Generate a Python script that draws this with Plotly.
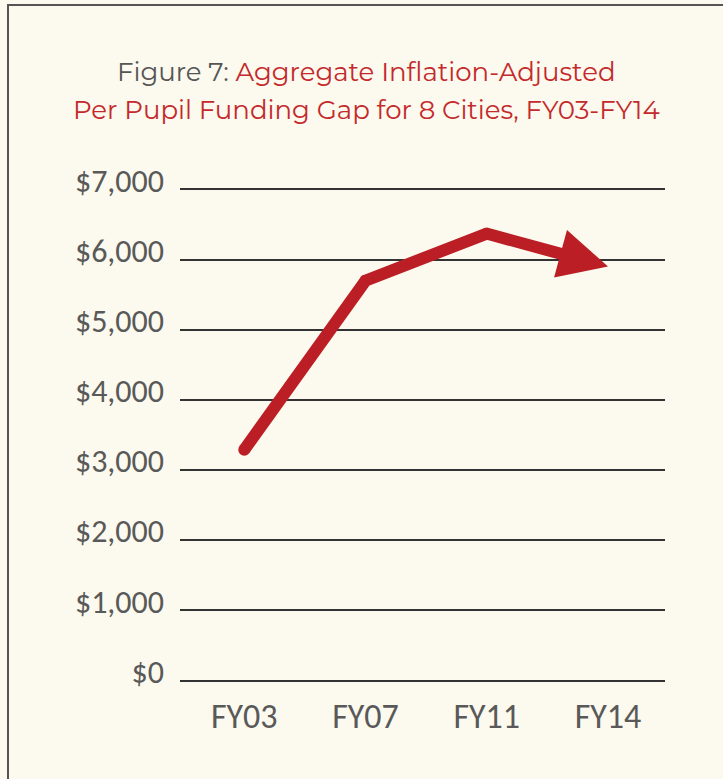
import plotly.graph_objects as go

categories = ["FY03", "FY07", "FY11", "FY14"]
gap_values = [3290, 5700, 6370, 5900]
y_tick_values = [0, 1000, 2000, 3000, 4000, 5000, 6000, 7000]
y_tick_labels = ["$0", "$1,000", "$2,000", "$3,000", "$4,000", "$5,000", "$6,000", "$7,000"]
title_line1 = '<span style="color:#555555">Figure 7: </span>Aggregate Inflation-Adjusted'
title_line2 = "Per Pupil Funding Gap for 8 Cities, FY03-FY14"

BG = "#fcf9ee"
RED = "#bb1f25"
TITLE_RED = "#c4292b"
GRAY = "#595959"

fig = go.Figure()

# invisible trace registering all categories
fig.add_trace(go.Scatter(
    x=categories, y=gap_values, mode="lines",
    line=dict(color="rgba(0,0,0,0)", width=0),
    hoverinfo="skip", showlegend=False,
))

# line body (first three points) with round joints via markers
fig.add_trace(go.Scatter(
    x=categories[:3], y=gap_values[:3], mode="lines+markers",
    line=dict(color=RED, width=12),
    marker=dict(color=RED, size=12, line=dict(width=0)),
    hoverinfo="skip", showlegend=False,
))

# final segment as an arrow
fig.add_annotation(
    x=categories[3], y=gap_values[3], ax=categories[2], ay=gap_values[2],
    xref="x", yref="y", axref="x", ayref="y",
    text="", showarrow=True, arrowhead=2, arrowsize=0.82, arrowwidth=12,
    arrowcolor=RED, standoff=0, startstandoff=0,
)

W, H = 723, 779
Y0, Y1 = -20, 7020
L, R = 180, 58
top_px, bot_px = 189, 681
per = (bot_px - top_px) / 7000
T = round(top_px - (Y1 - 7000) * per)
B = round(H - (bot_px + (0 - Y0) * per))
pw, ph = W - L - R, H - T - B

def px_to_paper_x(px):
    return (px - L) / pw

def px_to_paper_y(py):
    return (H - B - py) / ph

fig.add_shape(
    type="rect", xref="paper", yref="paper",
    x0=px_to_paper_x(8), x1=px_to_paper_x(740),
    y0=px_to_paper_y(800), y1=px_to_paper_y(5),
    line=dict(color="#555555", width=2), fillcolor="rgba(0,0,0,0)", layer="below",
)

title_font = dict(family="Montserrat, Open Sans, sans-serif", size=26, color=TITLE_RED)
for txt, cy in [(title_line1, 72), (title_line2, 110)]:
    fig.add_annotation(
        text=txt, xref="paper", yref="paper",
        x=px_to_paper_x(366), y=px_to_paper_y(cy),
        xanchor="center", yanchor="middle", showarrow=False, font=title_font,
    )

y_tick_font = dict(family="Carlito, Lato, sans-serif", size=32, color=GRAY)
x_tick_font = dict(family="Carlito, Lato, sans-serif", size=34, color=GRAY)

fig.update_layout(
    width=W, height=H,
    margin=dict(l=L, r=R, t=T, b=B),
    paper_bgcolor=BG, plot_bgcolor=BG,
    xaxis=dict(
        type="category", range=[-0.53, 3.47], showgrid=False, zeroline=False,
        showline=False, ticks="", ticklabelstandoff=11,
        tickfont=x_tick_font,
    ),
    yaxis=dict(
        range=[Y0, Y1], tickvals=y_tick_values, ticktext=y_tick_labels,
        showgrid=True, gridcolor="#333333", gridwidth=1.5,
        zeroline=False, showline=False, ticks="", ticklabelstandoff=15,
        ticklabelshift=-9,
        tickfont=y_tick_font,
    ),
)

fig.write_html("out.html", config={"displayModeBar": False},
               post_script="document.body.style.margin='0';")
